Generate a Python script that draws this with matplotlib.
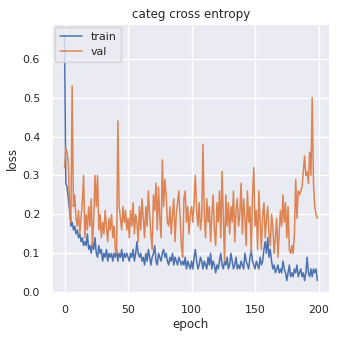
import matplotlib
matplotlib.use("Agg")
import matplotlib.pyplot as plt
import seaborn as sns
import numpy as np

train = [
    0.66, 0.28, 0.27, 0.24, 0.21, 0.17, 0.18, 0.16, 0.17, 0.15,
    0.16, 0.14, 0.15, 0.13, 0.14, 0.12, 0.13, 0.12, 0.15, 0.11,
    0.12, 0.10, 0.13, 0.11, 0.14, 0.10, 0.09, 0.12, 0.10, 0.11,
    0.08, 0.10, 0.09, 0.11, 0.08, 0.10, 0.09, 0.10, 0.08, 0.10,
    0.09, 0.11, 0.08, 0.10, 0.09, 0.11, 0.08, 0.10, 0.09, 0.10,
    0.09, 0.08, 0.10, 0.09, 0.11, 0.08, 0.10, 0.13, 0.10, 0.09,
    0.10, 0.08, 0.09, 0.07, 0.10, 0.08, 0.11, 0.09, 0.07, 0.09,
    0.10, 0.12, 0.08, 0.07, 0.10, 0.09, 0.08, 0.10, 0.11, 0.09,
    0.10, 0.08, 0.07, 0.09, 0.08, 0.10, 0.07, 0.09, 0.08, 0.07,
    0.09, 0.08, 0.07, 0.08, 0.07, 0.09, 0.06, 0.08, 0.07, 0.06,
    0.08, 0.06, 0.09, 0.11, 0.08, 0.06, 0.07, 0.09, 0.08, 0.06,
    0.08, 0.07, 0.06, 0.09, 0.07, 0.10, 0.06, 0.08, 0.07, 0.05,
    0.07, 0.06, 0.08, 0.10, 0.07, 0.06, 0.08, 0.07, 0.09, 0.06,
    0.07, 0.10, 0.08, 0.06, 0.07, 0.09, 0.06, 0.07, 0.06, 0.08,
    0.07, 0.06, 0.10, 0.08, 0.07, 0.06, 0.09, 0.11, 0.08, 0.07,
    0.06, 0.08, 0.07, 0.06, 0.09, 0.07, 0.08, 0.11, 0.13, 0.10,
    0.14, 0.09, 0.11, 0.08, 0.06, 0.07, 0.05, 0.06, 0.07, 0.05,
    0.06, 0.05, 0.08, 0.06, 0.05, 0.03, 0.05, 0.07, 0.04, 0.05,
    0.04, 0.06, 0.05, 0.07, 0.04, 0.05, 0.06, 0.04, 0.05, 0.03,
    0.05, 0.09, 0.05, 0.04, 0.06, 0.04, 0.06, 0.05, 0.06, 0.03,
]

val = [
    0.32, 0.37, 0.36, 0.33, 0.22, 0.18, 0.53, 0.22, 0.25, 0.19,
    0.17, 0.21, 0.15, 0.19, 0.23, 0.30, 0.14, 0.20, 0.16, 0.22,
    0.17, 0.24, 0.12, 0.19, 0.30, 0.22, 0.30, 0.16, 0.20, 0.14,
    0.18, 0.15, 0.21, 0.17, 0.13, 0.19, 0.16, 0.20, 0.14, 0.17,
    0.11, 0.10, 0.44, 0.22, 0.19, 0.16, 0.22, 0.18, 0.21, 0.16,
    0.19, 0.14, 0.21, 0.17, 0.23, 0.15, 0.20, 0.18, 0.13, 0.22,
    0.16, 0.24, 0.19, 0.14, 0.22, 0.17, 0.26, 0.20, 0.15, 0.11,
    0.25, 0.21, 0.28, 0.16, 0.27, 0.19, 0.14, 0.34, 0.22, 0.29,
    0.25, 0.18, 0.17, 0.22, 0.15, 0.20, 0.24, 0.13, 0.20, 0.23,
    0.26, 0.19, 0.12, 0.09, 0.24, 0.26, 0.18, 0.22, 0.15, 0.20,
    0.22, 0.18, 0.23, 0.30, 0.21, 0.17, 0.23, 0.16, 0.19, 0.38,
    0.20, 0.14, 0.24, 0.18, 0.22, 0.13, 0.20, 0.25, 0.16, 0.12,
    0.23, 0.18, 0.26, 0.14, 0.31, 0.19, 0.08, 0.25, 0.17, 0.23,
    0.15, 0.22, 0.18, 0.26, 0.13, 0.21, 0.24, 0.17, 0.20, 0.28,
    0.15, 0.24, 0.19, 0.12, 0.26, 0.18, 0.22, 0.10, 0.25, 0.32,
    0.17, 0.21, 0.11, 0.26, 0.18, 0.11, 0.20, 0.23, 0.14, 0.19,
    0.22, 0.15, 0.12, 0.20, 0.17, 0.10, 0.14, 0.19, 0.09, 0.15,
    0.21, 0.17, 0.25, 0.18, 0.23, 0.14, 0.22, 0.11, 0.10, 0.12,
    0.10, 0.15, 0.29, 0.19, 0.26, 0.25, 0.26, 0.27, 0.31, 0.35,
    0.30, 0.31, 0.28, 0.36, 0.30, 0.50, 0.28, 0.22, 0.20, 0.19,
]

epochs = np.arange(len(train))

sns.set_theme(style="darkgrid")
plt.rcParams['font.family'] = ['DejaVu Sans']

fig = plt.figure(figsize=(3.37, 3.38), dpi=100)
ax = fig.add_axes([0.154, 0.133, 0.825, 0.796])
ax.plot(epochs, train, color="#4c72b0", lw=1.1, label="train")
ax.plot(epochs, val, color="#dd8452", lw=1.1, label="val")
ax.set_xlim(-9.95, 208.95)
ax.set_ylim(-0.002, 0.689)
ax.set_xticks([0, 50, 100, 150, 200])
ax.set_yticks([0.0, 0.1, 0.2, 0.3, 0.4, 0.5, 0.6])
ax.tick_params(labelsize=7.9, pad=2.5)
ax.set_xlabel("epoch", fontsize=8.6, labelpad=2)
ax.set_ylabel("loss", fontsize=8.6, labelpad=3)
ax.set_title("categ cross entropy", fontsize=8.6, pad=4)
ax.legend(loc="upper left", fontsize=7.9, borderaxespad=0.3, handlelength=2.0)
fig.savefig("out.png", dpi=100)
